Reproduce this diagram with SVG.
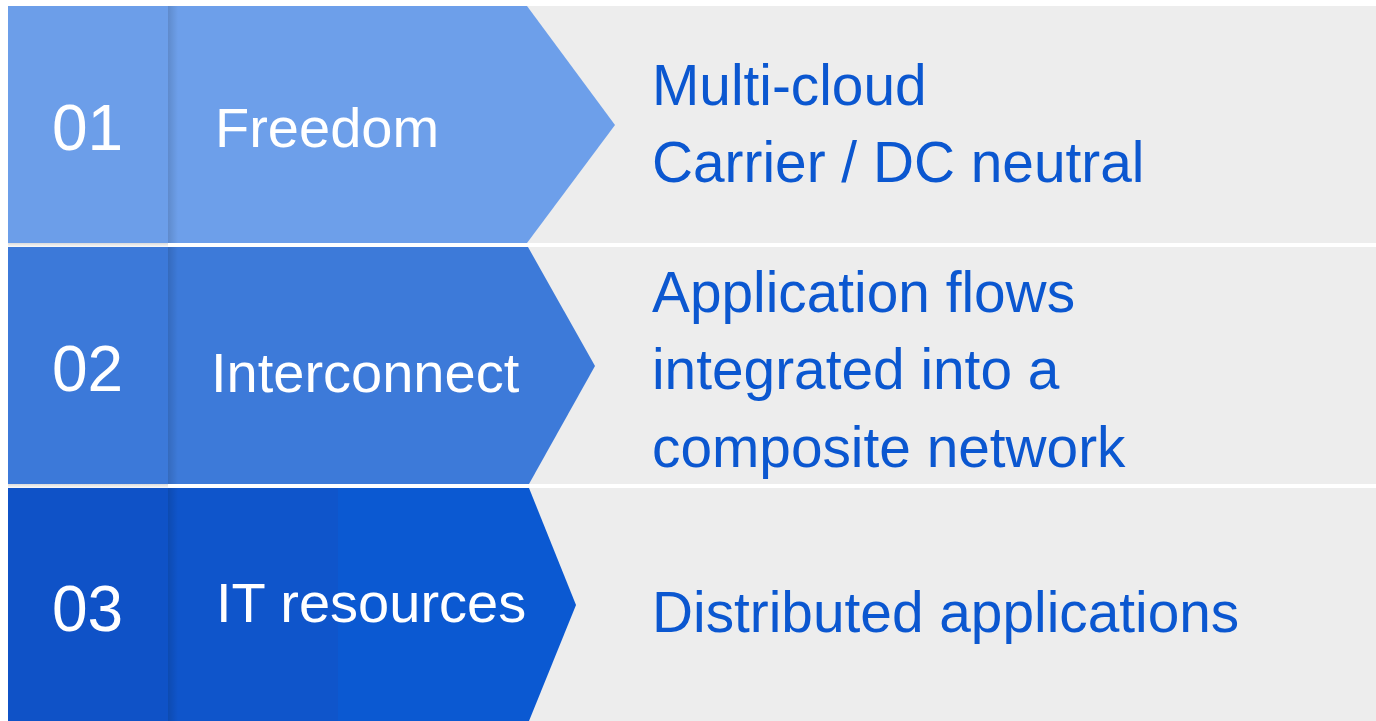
<svg xmlns="http://www.w3.org/2000/svg" width="1376" height="721" viewBox="0 0 1376 721">
<defs>
<linearGradient id="edge" x1="0" y1="0" x2="1" y2="0">
<stop offset="0" stop-color="#000" stop-opacity="0.13"/>
<stop offset="1" stop-color="#000" stop-opacity="0"/>
</linearGradient>
<linearGradient id="under" x1="0" y1="0" x2="0" y2="1">
<stop offset="0" stop-color="#000" stop-opacity="0.14"/>
<stop offset="1" stop-color="#000" stop-opacity="0.02"/>
</linearGradient>
</defs>
<style>
.bg{fill:#EDEDED}
.num{font-family:"Liberation Sans",Arial,sans-serif;font-size:64px;fill:#FFFFFF}
.lbl{font-family:"Liberation Sans",Arial,sans-serif;font-size:56px;fill:#FFFFFF}
.desc{font-family:"Liberation Sans",Arial,sans-serif;font-size:56.8px;fill:#0B57D0}
</style>
<rect width="1376" height="721" fill="#FFFFFF"/>
<g id="row1">
<rect class="bg" x="500" y="6" width="876" height="237"/>
<rect x="8" y="6" width="160" height="237" fill="#6C9EE9"/>
<rect x="8" y="243" width="160" height="4" fill="url(#under)"/>
<polygon points="168,6 527,6 615,125 527,243 168,243" fill="#6D9FEA"/>
<rect x="168" y="6" width="10" height="237" fill="url(#edge)"/>
<text class="num" x="52" y="150">01</text>
<text class="lbl" x="215" y="147">Freedom</text>
<text class="desc" x="652" y="105">Multi-cloud</text>
<text class="desc" x="652" y="182">Carrier / DC neutral</text>
</g>
<g id="row2">
<rect class="bg" x="500" y="247" width="876" height="237"/>
<rect x="8" y="247" width="160" height="237" fill="#3C79D9"/>
<rect x="8" y="484" width="160" height="4" fill="url(#under)"/>
<polygon points="168,247 528,247 595,366 529,484 168,484" fill="#3D7AD9"/>
<rect x="168" y="247" width="10" height="237" fill="url(#edge)"/>
<text class="num" x="52" y="391">02</text>
<text class="lbl" x="211" y="392">Interconnect</text>
<text class="desc" x="652" y="312">Application flows</text>
<text class="desc" x="652" y="389">integrated into a</text>
<text class="desc" x="652" y="467">composite network</text>
</g>
<g id="row3">
<rect class="bg" x="500" y="488" width="876" height="233"/>
<rect x="8" y="488" width="160" height="233" fill="#0F52C7"/>
<polygon points="168,488 338,488 338,721 168,721" fill="#0F55CB"/>
<polygon points="338,488 529,488 576,605 529,721 338,721" fill="#0B59D2"/>
<rect x="168" y="488" width="10" height="233" fill="url(#edge)"/>
<text class="num" x="52" y="631">03</text>
<text class="lbl" x="216" y="622">IT resources</text>
<text class="desc" x="652" y="632">Distributed applications</text>
</g>
<g id="connectors"/>
</svg>
